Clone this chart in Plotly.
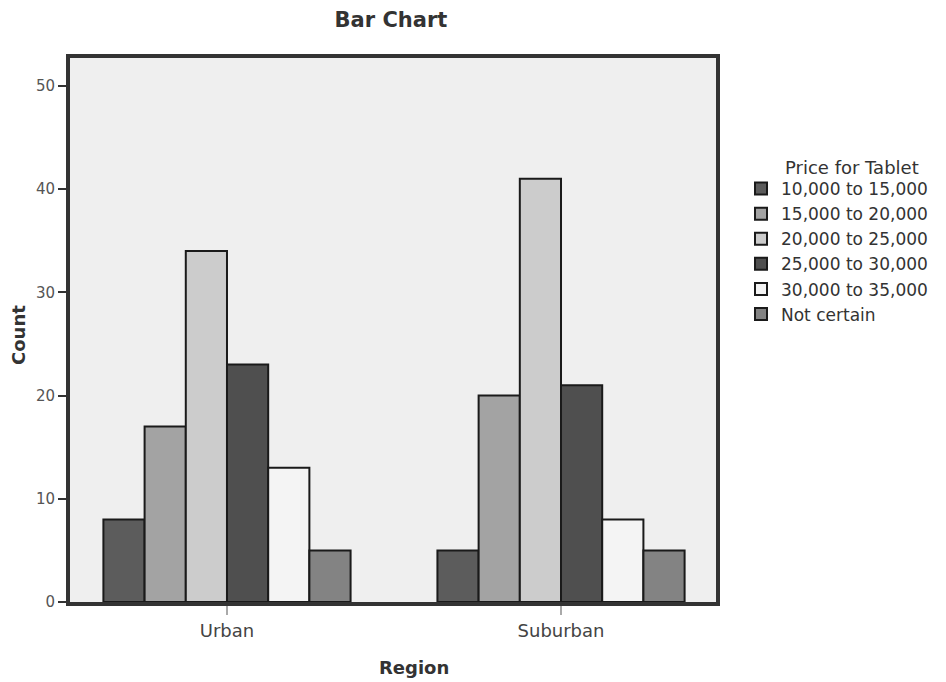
import plotly.graph_objects as go

regions = ["Urban", "Suburban"]
price_groups = ["10,000 to 15,000", "15,000 to 20,000", "20,000 to 25,000",
                "25,000 to 30,000", "30,000 to 35,000", "Not certain"]
counts = {
    "10,000 to 15,000": [8, 5],
    "15,000 to 20,000": [17, 20],
    "20,000 to 25,000": [34, 41],
    "25,000 to 30,000": [23, 21],
    "30,000 to 35,000": [13, 8],
    "Not certain": [5, 5],
}
colors = ["#5c5c5c", "#a3a3a3", "#cccccc", "#4f4f4f", "#f4f4f4", "#838383"]
y_ticks = [0, 10, 20, 30, 40, 50]

FONT = "DejaVu Sans"
W, H = 938, 674  # page body has an 8px margin
ML, MR, MT, MB = 62, 230, 50, 80
PW, PH = W - ML - MR, H - MT - MB
TXT = "#333333"


def paper(fx, fy):
    return (fx - ML) / PW, (H - MB - fy) / PH


fig = go.Figure()
for g, c in zip(price_groups, colors):
    fig.add_trace(go.Bar(
        x=regions, y=counts[g], name=g,
        marker=dict(color=c, line=dict(color="#1a1a1a", width=2)),
    ))

lt = paper(775, 160)
rg = paper(406, 659)
ct = paper(10, 327)

fig.update_layout(
    width=W, height=H,
    barmode="group", bargap=0.26, bargroupgap=0,
    paper_bgcolor="white", plot_bgcolor="#efefef",
    margin=dict(l=ML, r=MR, t=MT, b=MB, autoexpand=False),
    font=dict(family=FONT, color=TXT, size=17),
    title=dict(text="<b>Bar Chart</b>", x=383/W, xanchor="center", xref="container",
               y=1-12/H, yanchor="middle", yref="container",
               font=dict(size=21, color=TXT)),
    legend=dict(
        x=733/W, xref="container", xanchor="left",
        y=1-163/H, yref="container", yanchor="top",
        font=dict(size=17, color=TXT),
        itemsizing="constant", tracegroupgap=0, itemwidth=30,
        bgcolor="rgba(0,0,0,0)",
    ),
    annotations=[
        dict(text="Price for Tablet", x=lt[0], y=lt[1], xref="paper", yref="paper",
             showarrow=False, xanchor="left", yanchor="middle",
             font=dict(size=18, color=TXT)),
        dict(text="<b>Region</b>", x=rg[0], y=rg[1], xref="paper", yref="paper",
             showarrow=False, xanchor="center", yanchor="middle",
             font=dict(size=18, color=TXT)),
        dict(text="<b>Count</b>", x=ct[0], y=ct[1], xref="paper", yref="paper",
             showarrow=False, xanchor="center", yanchor="middle", textangle=-90,
             font=dict(size=18, color=TXT)),
    ],
    xaxis=dict(
        type="category", range=[-0.47, 1.464], automargin=False,
        showline=True, mirror=True, linecolor="#333333", linewidth=4,
        ticks="outside", ticklen=9, tickcolor="#aaaaaa", tickwidth=2,
        tickfont=dict(size=18, color="#444444"), showgrid=False,
    ),
    yaxis=dict(
        range=[0, 52.7], tickvals=y_ticks, automargin=False,
        showline=True, mirror=True, linecolor="#333333", linewidth=4,
        ticks="outside", ticklen=8, tickcolor="#333333", tickwidth=2,
        tickfont=dict(size=15, color="#555555"), showgrid=False, zeroline=False,
    ),
)

fig.write_html("out.html")
